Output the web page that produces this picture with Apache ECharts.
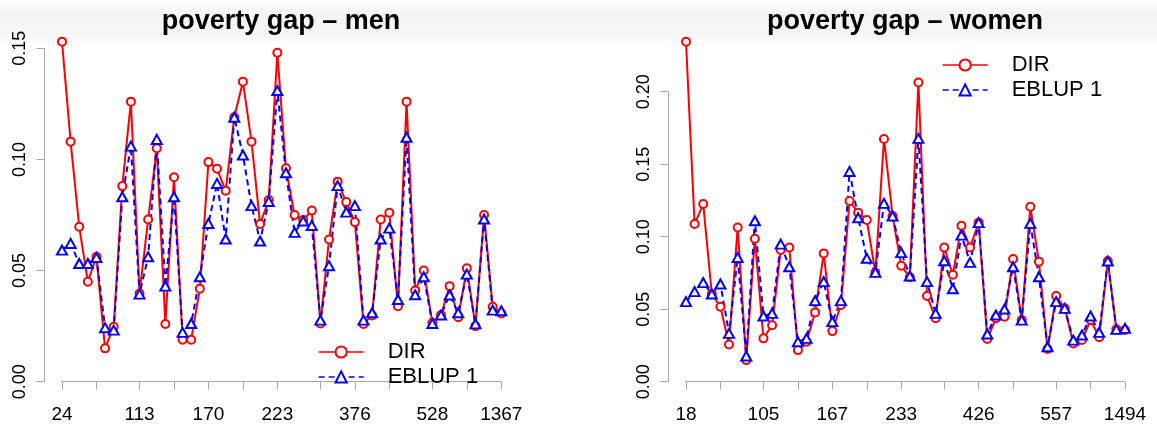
<!DOCTYPE html>
<html><head><meta charset="utf-8">
<script src="https://cdn.jsdelivr.net/npm/echarts@6/dist/echarts.min.js"></script>
<style>html,body{margin:0;padding:0;background:#fff}#c{width:1157px;height:427px}</style>
</head><body><div id="c"></div>
<script>
// area rank (areas sorted by sample size), 52 per panel
const areas = ['1','2','3','4','5','6','7','8','9','10','11','12','13','14','15','16','17','18','19','20','21','22','23','24','25','26','27','28','29','30','31','32','33','34','35','36','37','38','39','40','41','42','43','44','45','46','47','48','49','50','51','52'];
const tickPos = [0,4,9,13,17,21,25,30,34,38,43,47,51];
const labelPos = [0,9,17,25,34,43,51];
const menLabels = ['24','113','170','223','376','528','1367'];
const womenLabels = ['18','105','167','233','426','557','1494'];

const menDIR = [0.153,0.108,0.0697,0.045,0.0562,0.015,0.0247,0.088,0.126,0.0397,0.073,0.105,0.026,0.092,0.0189,0.0189,0.0418,0.0988,0.0958,0.0859,0.119,0.135,0.108,0.071,0.0817,0.148,0.096,0.075,0.0727,0.077,0.0262,0.064,0.090,0.0808,0.0718,0.026,0.0298,0.073,0.076,0.034,0.126,0.041,0.050,0.0265,0.030,0.043,0.029,0.051,0.025,0.075,0.0337,0.0307];
const menEBLUP = [0.0592,0.0622,0.0532,0.0532,0.0559,0.0243,0.0232,0.0832,0.106,0.0394,0.0562,0.109,0.043,0.0832,0.0222,0.0262,0.0472,0.0712,0.0892,0.0642,0.119,0.102,0.0792,0.0633,0.0811,0.131,0.094,0.0672,0.0723,0.0703,0.0277,0.0522,0.0882,0.0763,0.0792,0.0277,0.031,0.0642,0.0691,0.037,0.110,0.0391,0.0472,0.0262,0.030,0.039,0.031,0.0484,0.026,0.0732,0.0322,0.0319];
const womenDIR = [0.2345,0.1087,0.1225,0.0605,0.0517,0.0257,0.1064,0.0149,0.0986,0.0299,0.0389,0.0908,0.0926,0.0218,0.0276,0.0478,0.0885,0.0349,0.0529,0.1246,0.1166,0.1115,0.0752,0.1674,0.1143,0.080,0.072,0.2064,0.0591,0.0437,0.0926,0.0738,0.1076,0.0926,0.1097,0.0294,0.0437,0.0448,0.0846,0.0425,0.1207,0.0828,0.0225,0.0591,0.0506,0.0264,0.0287,0.0425,0.0306,0.0832,0.0361,0.0356];
const womenEBLUP = [0.0552,0.0621,0.0683,0.0605,0.0674,0.0333,0.0857,0.0177,0.111,0.0453,0.0471,0.0949,0.0793,0.0276,0.0299,0.0559,0.069,0.0414,0.0559,0.145,0.1131,0.0851,0.0754,0.123,0.1143,0.089,0.0729,0.1678,0.069,0.0471,0.0834,0.0641,0.1011,0.0823,0.1097,0.0329,0.046,0.0501,0.0793,0.0425,0.1092,0.0724,0.0241,0.0552,0.0506,0.0287,0.0322,0.0453,0.034,0.0832,0.0361,0.0368];

const menYMax = 0.15, womenYMax = 0.20, yStep = 0.05;
const titles = ['poverty gap \u2013 men', 'poverty gap \u2013 women'];
const seriesNames = ['DIR', 'EBLUP 1'];

const FONT = "'Liberation Sans', Arial, sans-serif";
const AX = '#a8a8a8';

function xAxisFor(gi, labels) {
  return {
    type: 'category', gridIndex: gi, data: areas, boundaryGap: false, position: 'bottom', offset: 14,
    axisLine: { show: true, lineStyle: { color: AX, width: 1 } },
    axisTick: { show: true, length: 8, interval: (i) => tickPos.indexOf(i) >= 0, lineStyle: { color: AX, width: 1 } },
    axisLabel: { interval: (i) => labelPos.indexOf(i) >= 0, formatter: (v, i) => labels[labelPos.indexOf(i)] || '',
      fontSize: 19, color: '#000', margin: 10, fontFamily: FONT, hideOverlap: false },
    splitLine: { show: false }
  };
}
function yAxisFor(gi, max) {
  return {
    type: 'value', gridIndex: gi, min: 0, max: max, interval: yStep, offset: 17.6,
    axisLine: { show: true, lineStyle: { color: AX, width: 1 } },
    axisTick: { show: true, length: 8, lineStyle: { color: AX, width: 1 } },
    axisLabel: { rotate: 90, formatter: (v) => v.toFixed(2), fontSize: 18, color: '#000', margin: 15, fontFamily: FONT },
    splitLine: { show: false }
  };
}
function seriesFor(gi, dir, eb) {
  return [
    { name: seriesNames[0], type: 'line', xAxisIndex: gi, yAxisIndex: gi, data: dir, clip: false, showAllSymbol: true,
      symbol: 'emptyCircle', symbolSize: 8, itemStyle: { color: '#ff0000', borderWidth: 1.6 },
      lineStyle: { color: '#ff0000', width: 2 }, emphasis: { disabled: true } },
    { name: seriesNames[1], type: 'line', xAxisIndex: gi, yAxisIndex: gi, data: eb, clip: false, showAllSymbol: true,
      symbol: 'emptyTriangle', symbolSize: [10, 9], itemStyle: { color: '#0000ff', borderWidth: 1.6 },
      lineStyle: { color: '#0000ff', width: 2, type: [6, 4] }, emphasis: { disabled: true } }
  ];
}
function legendFor(left, top) {
  return {
    orient: 'vertical', left: left, top: top, padding: 0, itemGap: 3, itemWidth: 45, itemHeight: 14,
    data: seriesNames, selectedMode: false, lineStyle: { width: 1.3 },
    textStyle: { fontSize: 22, color: '#000', fontFamily: FONT, lineHeight: 22, padding: [0, 0, 0, 19] }
  };
}

const chart = echarts.init(document.getElementById('c'), null, { renderer: 'canvas' });
chart.setOption({
  animation: false,
  backgroundColor: '#fff',
  graphic: [{
    type: 'rect', z: -10, silent: true, shape: { x: 0, y: 0, width: 1157, height: 46 },
    style: { fill: new echarts.graphic.LinearGradient(0, 0, 0, 1, [
      { offset: 0, color: 'rgba(255,255,255,1)' },
      { offset: 0.3, color: 'rgba(244,244,244,1)' },
      { offset: 0.7, color: 'rgba(246,246,246,1)' },
      { offset: 1, color: 'rgba(255,255,255,1)' }]) }
  }],
  title: [
    { text: titles[0], left: 281, top: 8, textAlign: 'center', padding: 0,
      textStyle: { fontSize: 27, fontWeight: 'bold', color: '#000', fontFamily: FONT } },
    { text: titles[1], left: 905, top: 8, textAlign: 'center', padding: 0,
      textStyle: { fontSize: 27, fontWeight: 'bold', color: '#000', fontFamily: FONT } }
  ],
  legend: [legendFor(318, 341), legendFor(942, 54)],
  grid: [
    { left: 62, top: 48.3, width: 439.3, height: 333.4 },
    { left: 686, top: 91.7, width: 439, height: 290 }
  ],
  xAxis: [xAxisFor(0, menLabels), xAxisFor(1, womenLabels)],
  yAxis: [yAxisFor(0, menYMax), yAxisFor(1, womenYMax)],
  series: [...seriesFor(0, menDIR, menEBLUP), ...seriesFor(1, womenDIR, womenEBLUP)]
});
</script>
</body></html>
